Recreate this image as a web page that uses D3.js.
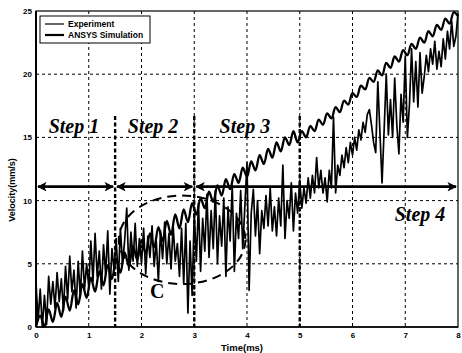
<!DOCTYPE html>
<html>
<head>
<meta charset="utf-8">
<script src="https://cdn.jsdelivr.net/npm/d3@7"></script>
<style>
  html, body { margin: 0; padding: 0; background: #fff; }
  svg { display: block; }
</style>
</head>
<body>
<svg id="chart" width="462" height="353"></svg>
<script>
// ---------------- data ----------------
const xTicks = [0, 1, 2, 3, 4, 5, 6, 7, 8];
const yTicks = [0, 5, 10, 15, 20, 25];
const seriesNames = ["Experiment", "ANSYS Simulation"];

// Experiment velocity (mm/s), sampled every 0.04 ms from 0 to 8 ms
const expStep = 0.04;
const experiment = [
  3.5, 0.5, 3.0, 0.0, 2.5, 0.2, 4.0, 1.8, 3.6, 1.5, 4.3, 2.0, 3.8,
  1.3, 4.8, 2.2, 5.6, 2.8, 4.5, 1.5, 5.2, 2.4, 6.0, 3.0, 5.0,
  3.2, 6.8, 3.6, 7.4, 4.0, 6.0, 3.0, 6.5, 4.2, 7.6, 2.6, 6.2, 4.5,
  7.0, 3.6, 7.8, 5.0, 6.8, 9.4, 4.5, 7.5, 5.2, 8.2, 4.8, 7.0,
  5.0, 7.8, 4.2, 7.2, 5.5, 8.0, 4.8, 6.8, 3.6, 7.6, 5.4, 8.3, 5.0,
  7.4, 4.6, 8.0, 5.2, 6.6, 4.0, 7.8, 3.4, 8.2, 1.1, 6.8, 2.5,
  9.0, 5.2, 9.8, 4.4, 8.6, 6.0, 10.5, 5.5, 9.2, 6.2, 10.8, 5.0, 8.8,
  6.4, 10.2, 4.0, 9.5, 6.8, 11.2, 4.4, 9.0, 7.0, 10.8, 6.2, 9.6,
  13.0, 2.9, 9.0, 10.9, 7.2, 10.0, 5.8, 9.2, 7.8, 10.4, 8.0, 11.0, 7.6,
  9.5, 7.2, 10.2, 8.0, 12.8, 7.0, 10.0, 8.6, 11.4, 7.6, 10.6, 9.0,
  11.6, 9.4, 11.0, 9.8, 11.8, 10.2, 12.0, 10.6, 13.4, 11.0, 12.4, 10.6, 11.8,
  9.9, 12.4, 11.0, 16.6, 10.6, 12.8, 12.0, 13.6, 12.6, 14.2, 13.0, 14.6,
  13.6, 15.0, 14.0, 15.6, 14.8, 16.2, 15.4, 16.8, 17.2, 16.0, 14.6, 13.8, 19.4,
  15.4, 11.4, 15.6, 20.0, 15.2, 18.0, 15.0, 19.7, 16.0, 13.7, 18.4, 16.2,
  21.4, 15.0, 17.6, 22.0, 17.8, 21.0, 17.4, 21.7, 18.5, 19.8, 21.5, 20.2, 22.0,
  20.8, 22.6, 20.4, 21.8, 20.6, 22.8, 21.2, 23.4, 22.0, 24.2, 22.2, 23.0,
  24.8
];

// ANSYS simulation velocity (mm/s), sampled every 0.08 ms from 0 to 8 ms
const simStep = 0.08;
const simulation = [
  0.0, 0.9, 0.0, 1.4, 0.4, 1.9, 0.8, 2.4, 1.3, 2.9,
  1.8, 3.4, 2.3, 3.9, 2.8, 4.4, 3.3, 4.9, 3.8, 5.4,
  4.3, 5.9, 4.8, 6.4, 5.3, 6.9, 5.8, 7.4, 6.3, 7.9,
  6.8, 8.4, 7.3, 8.9, 7.8, 9.3, 8.3, 9.8, 8.9, 10.2,
  9.4, 10.7, 9.9, 11.2, 10.4, 11.7, 10.9, 12.1, 11.4, 12.6,
  11.9, 13.1, 12.4, 13.6, 12.9, 14.1, 13.4, 14.6, 13.9, 15.0,
  14.4, 15.5, 14.6, 15.5, 15.0, 15.9, 15.5, 16.4, 16.0, 16.9,
  16.5, 17.4, 17.0, 17.9, 17.6, 18.5, 18.2, 19.1, 18.8, 19.7,
  19.4, 20.3, 19.9, 20.9, 20.5, 21.4, 21.0, 21.9, 21.5, 22.4,
  22.0, 22.9, 22.5, 23.4, 23.0, 23.9, 23.5, 24.4, 24.0, 24.9,
  24.6
];

// Step boundaries (ms), arrow level, step labels
const stepBounds = [1.5, 3, 5];
const arrowLevel = 11.1;
const arrowSegments = [[0, 1.5], [1.5, 3], [3, 8]];
const stepLabels = [
  { text: "Step 1", t: 0.72, v: 15.35 },
  { text: "Step 2", t: 2.22, v: 15.35 },
  { text: "Step 3", t: 3.96, v: 15.35 },
  { text: "Step 4", t: 7.28, v: 8.4 }
];
const regionC = { label: "C", t: 2.77, v: 6.9, rt: 1.2, rv: 3.5, labelT: 2.3, labelV: 2.3 };

// ---------------- drawing ----------------
const svg = d3.select("#chart");
const L = 36, R = 458, T = 11, B = 327;
const x = d3.scaleLinear().domain([0, 8]).range([L, R]);
const y = d3.scaleLinear().domain([0, 25]).range([B, T]);

const g = svg.append("g");

// grid
g.append("g").selectAll("line").data(xTicks.filter(d => d > 0 && d < 8)).join("line")
  .attr("x1", d => x(d)).attr("x2", d => x(d)).attr("y1", T).attr("y2", B)
  .attr("stroke", "#000").attr("stroke-width", 1).attr("stroke-dasharray", "3,3");
g.append("g").selectAll("line").data(yTicks.filter(d => d > 0 && d < 25)).join("line")
  .attr("x1", L).attr("x2", R).attr("y1", d => y(d)).attr("y2", d => y(d))
  .attr("stroke", "#000").attr("stroke-width", 1).attr("stroke-dasharray", "3,3");

// step boundaries (bold dashed)
g.append("g").selectAll("line").data(stepBounds).join("line")
  .attr("x1", d => x(d)).attr("x2", d => x(d)).attr("y1", y(16.7)).attr("y2", B)
  .attr("stroke", "#000").attr("stroke-width", 2.4).attr("stroke-dasharray", "4,2.5");

// data lines
const lineExp = d3.line().x((d, i) => x(i * expStep)).y(d => y(d));
const lineSim = d3.line().x((d, i) => x(i * simStep)).y(d => y(d)).curve(d3.curveCatmullRom);

g.append("path").datum(experiment).attr("d", lineExp)
  .attr("fill", "none").attr("stroke", "#000").attr("stroke-width", 1.7).attr("stroke-linejoin", "round");
g.append("path").datum(simulation).attr("d", lineSim)
  .attr("fill", "none").attr("stroke", "#000").attr("stroke-width", 2.3).attr("stroke-linejoin", "round");

// axes frame
g.append("rect").attr("x", L).attr("y", T).attr("width", R - L).attr("height", B - T)
  .attr("fill", "none").attr("stroke", "#000").attr("stroke-width", 1.2);
g.append("line").attr("x1", L).attr("x2", L).attr("y1", T).attr("y2", B)
  .attr("stroke", "#000").attr("stroke-width", 2);
g.append("line").attr("x1", L).attr("x2", R).attr("y1", B).attr("y2", B)
  .attr("stroke", "#000").attr("stroke-width", 1.6);

// axes ticks & labels via d3 axes
const xAxis = d3.axisBottom(x).tickValues(xTicks).tickSize(0).tickPadding(5).tickFormat(d3.format("d"));
const yAxis = d3.axisLeft(y).tickValues(yTicks).tickSize(0).tickPadding(4).tickFormat(d3.format("d"));
const gx = svg.append("g").attr("transform", `translate(0,${B})`).call(xAxis);
const gy = svg.append("g").attr("transform", `translate(${L},0)`).call(yAxis);
[gx, gy].forEach(a => {
  a.select(".domain").remove();
  a.selectAll("text").attr("font-family", "Liberation Sans, Arial, sans-serif")
    .attr("font-size", 8).attr("font-weight", "bold").attr("fill", "#000");
});

// axis titles
svg.append("text").attr("x", 242).attr("y", 351).attr("text-anchor", "middle")
  .attr("font-family", "Liberation Sans, Arial, sans-serif").attr("font-size", 9.5).attr("font-weight", "bold")
  .text("Time(ms)");
svg.append("text").attr("transform", "translate(15,190) rotate(-90)").attr("text-anchor", "middle")
  .attr("font-family", "Liberation Sans, Arial, sans-serif").attr("font-size", 9).attr("font-weight", "bold")
  .text("Velocity(mm/s)");

// arrows
const defs = svg.append("defs");
defs.append("marker").attr("id", "ah").attr("viewBox", "0 0 10 10").attr("refX", 9).attr("refY", 5)
  .attr("markerWidth", 4).attr("markerHeight", 3.4).attr("markerUnits", "strokeWidth").attr("orient", "auto-start-reverse")
  .append("path").attr("d", "M0,0 L10,5 L0,10 L2.5,5 Z").attr("fill", "#000");
g.append("g").selectAll("line").data(arrowSegments).join("line")
  .attr("x1", d => x(d[0]) + 2).attr("x2", d => x(d[1]) - 2)
  .attr("y1", y(arrowLevel)).attr("y2", y(arrowLevel))
  .attr("stroke", "#000").attr("stroke-width", 2.8)
  .attr("marker-start", "url(#ah)").attr("marker-end", "url(#ah)");

// step labels
g.append("g").selectAll("text").data(stepLabels).join("text")
  .attr("x", d => x(d.t)).attr("y", d => y(d.v)).attr("text-anchor", "middle")
  .attr("font-family", "Liberation Serif, Times New Roman, serif").attr("font-style", "italic")
  .attr("font-weight", "bold").attr("font-size", 20).text(d => d.text);

// region C
g.append("ellipse").attr("cx", x(regionC.t)).attr("cy", y(regionC.v))
  .attr("rx", x(regionC.rt) - x(0)).attr("ry", y(0) - y(regionC.rv))
  .attr("fill", "none").attr("stroke", "#000").attr("stroke-width", 2).attr("stroke-dasharray", "9,6");
g.append("text").attr("x", x(regionC.labelT)).attr("y", y(regionC.labelV)).attr("text-anchor", "middle")
  .attr("font-family", "Liberation Serif, Times New Roman, serif").attr("font-weight", "bold")
  .attr("font-size", 20).text(regionC.label);

// legend
const lg = svg.append("g");
lg.append("rect").attr("x", 40).attr("y", 16).attr("width", 110).attr("height", 27)
  .attr("fill", "#fff").attr("stroke", "#000").attr("stroke-width", 1);
lg.selectAll("line.l").data(seriesNames).join("line")
  .attr("x1", 45).attr("x2", 64).attr("y1", (d, i) => 24 + i * 11).attr("y2", (d, i) => 24 + i * 11)
  .attr("stroke", "#000").attr("stroke-width", (d, i) => i === 0 ? 1.2 : 2.2);
lg.selectAll("text").data(seriesNames).join("text")
  .attr("x", 68).attr("y", (d, i) => 27 + i * 11)
  .attr("font-family", "Liberation Sans, Arial, sans-serif").attr("font-size", 8.5).attr("font-weight", "bold")
  .text(d => d);
</script>
</body>
</html>
